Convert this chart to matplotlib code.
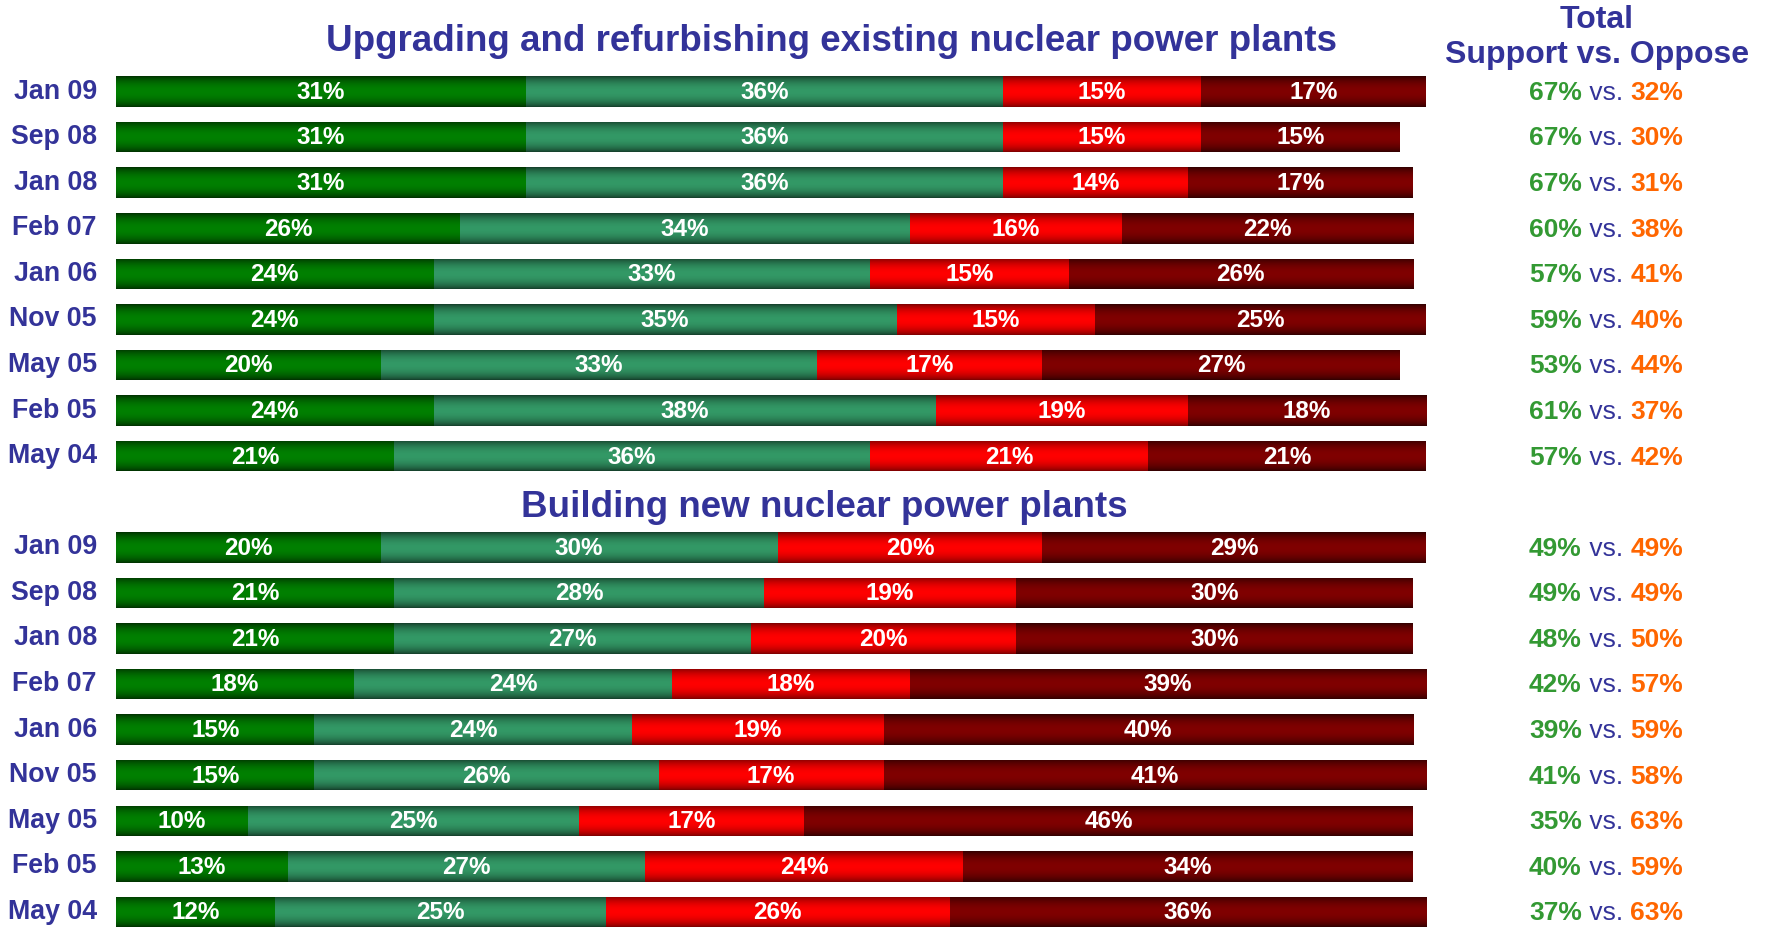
import numpy as np
import matplotlib
matplotlib.use("Agg")
import matplotlib.pyplot as plt
from matplotlib.offsetbox import TextArea, HPacker, AnnotationBbox
from matplotlib.colors import to_rgb

plt.rcParams['font.family'] = ['Liberation Sans', 'DejaVu Sans']

dates = ['Jan 09', 'Sep 08', 'Jan 08', 'Feb 07', 'Jan 06', 'Nov 05', 'May 05', 'Feb 05', 'May 04']

# Upgrading and refurbishing existing plants
upg_strong_support = [31, 31, 31, 26, 24, 24, 20, 24, 21]
upg_some_support = [36, 36, 36, 34, 33, 35, 33, 38, 36]
upg_some_oppose = [15, 15, 14, 16, 15, 15, 17, 19, 21]
upg_strong_oppose = [17, 15, 17, 22, 26, 25, 27, 18, 21]
upg_total_support = [67, 67, 67, 60, 57, 59, 53, 61, 57]
upg_total_oppose = [32, 30, 31, 38, 41, 40, 44, 37, 42]

# Building new plants
new_strong_support = [20, 21, 21, 18, 15, 15, 10, 13, 12]
new_some_support = [30, 28, 27, 24, 24, 26, 25, 27, 25]
new_some_oppose = [20, 19, 20, 18, 19, 17, 17, 24, 26]
new_strong_oppose = [29, 30, 30, 39, 40, 41, 46, 34, 36]
new_total_support = [49, 49, 48, 42, 39, 41, 35, 40, 37]
new_total_oppose = [49, 49, 50, 57, 59, 58, 63, 59, 63]

NAVY = '#333399'
# (center colour, edge colour) for each segment type
seg_colors = [('#008000', '#003000'),
              ('#339966', '#143d29'),
              ('#ff0000', '#7a0000'),
              ('#800000', '#300000')]


def gradient(center, edge, n=64):
    c = np.array(to_rgb(center))
    e = np.array(to_rgb(edge))
    t = np.linspace(0, 1, n)
    f = np.sin(np.pi * t) ** 0.7
    img = e[None, :] + (c - e)[None, :] * f[:, None]
    return img[:, None, :]


fig = plt.figure(figsize=(17.71, 9.27), dpi=100)
W, H = 1771, 927
x0_px, px_per_pct = 116, 13.233
row0_px, px_per_row = 91.5, 45.58
ax = fig.add_axes([x0_px / W, 0, 100 * px_per_pct / W, 1])
ylim = (18 + (H - (row0_px + 18 * px_per_row)) / px_per_row, -row0_px / px_per_row)

groups = [
    (0, [upg_strong_support, upg_some_support, upg_some_oppose, upg_strong_oppose],
     upg_total_support, upg_total_oppose),
    (10, [new_strong_support, new_some_support, new_some_oppose, new_strong_oppose],
     new_total_support, new_total_oppose),
]

bar_h = 0.67
for start, series, tot_s, tot_o in groups:
    ys = np.arange(len(dates)) + start
    left = np.zeros(len(dates))
    for vals, (cc, ec) in zip(series, seg_colors):
        vals = np.array(vals, dtype=float)
        bars = ax.barh(ys, vals, left=left, height=bar_h, color=cc, linewidth=0)
        grad = gradient(cc, ec)
        for b, v, l, y in zip(bars, vals, left, ys):
            x, yb = b.get_x(), b.get_y()
            im = ax.imshow(grad, extent=(x, x + b.get_width(), yb + bar_h, yb),
                           aspect='auto', interpolation='bilinear', zorder=2)
            im.set_clip_path(b)
            ax.text(l + v / 2, y + 0.02, f'{int(v)}%', color='white', fontsize=17.5,
                    fontweight='bold', ha='center', va='center', zorder=3)
        left = left + vals
    for y, d, s, o in zip(ys, dates, tot_s, tot_o):
        ax.text(-1.45, y, d, color=NAVY, fontsize=19.3, fontweight='bold',
                ha='right', va='center')
        box = HPacker(children=[
            TextArea(f'{s}%', textprops=dict(color='#339933', fontsize=19, fontweight='bold')),
            TextArea(' vs. ', textprops=dict(color=NAVY, fontsize=19)),
            TextArea(f'{o}%', textprops=dict(color='#ff6600', fontsize=19, fontweight='bold')),
        ], pad=0, sep=0, align='baseline')
        ab = AnnotationBbox(box, (112.6, y + 0.03), frameon=False, box_alignment=(0.5, 0.5),
                            annotation_clip=False, pad=0)
        ax.add_artist(ab)

ax.text(54.1, -1.1, 'Upgrading and refurbishing existing nuclear power plants',
        color=NAVY, fontsize=26.5, fontweight='bold', ha='center', va='center')
ax.text(53.5, 9.12, 'Building new nuclear power plants',
        color=NAVY, fontsize=26.5, fontweight='bold', ha='center', va='center')
ax.text(111.9, -1.56, 'Total', color=NAVY, fontsize=23,
        fontweight='bold', ha='center', va='center')
ax.text(111.9, -0.8, 'Support vs. Oppose', color=NAVY, fontsize=23,
        fontweight='bold', ha='center', va='center')

ax.set_xlim(0, 100)
ax.set_ylim(*ylim)
ax.axis('off')

fig.savefig('out.png', dpi=100, facecolor='white')
